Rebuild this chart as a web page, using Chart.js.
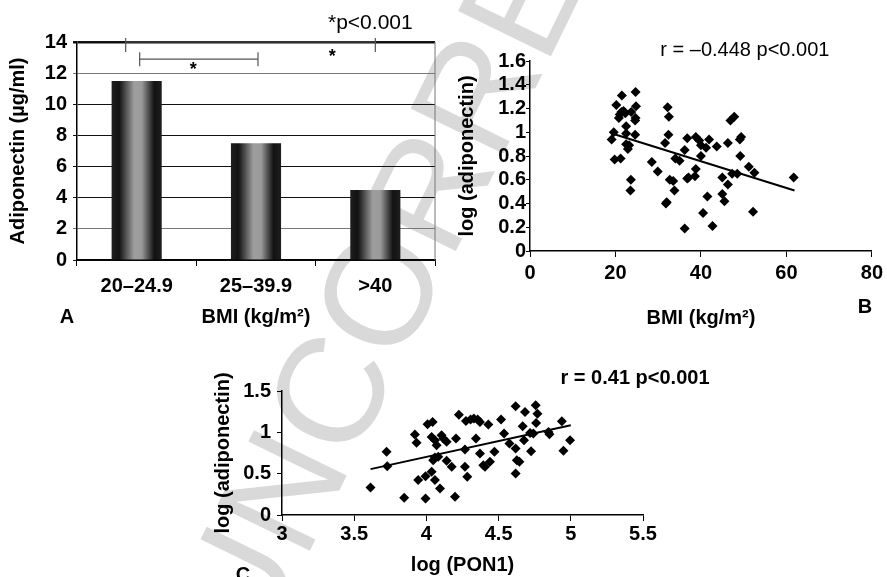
<!DOCTYPE html>
<html>
<head>
<meta charset="utf-8">
<script src="https://cdn.jsdelivr.net/npm/chart.js@4.4.0/dist/chart.umd.min.js"></script>
<style>
  html, body { margin: 0; padding: 0; background: #fff; overflow: hidden; }
  #page { position: relative; width: 887px; height: 577px; overflow: hidden; }
  canvas { position: absolute; }
</style>
</head>
<body>
<div id="page">
  <canvas id="wm" width="887" height="577" style="left:0;top:0"></canvas>
  <canvas id="chartA" width="445" height="340" style="left:0;top:0"></canvas>
  <canvas id="chartB" width="447" height="310" style="left:440px;top:30px"></canvas>
  <canvas id="chartC" width="560" height="250" style="left:180px;top:340px"></canvas>
</div>
<script>
// Panel A: mean adiponectin by BMI group
const bmiGroups = ['20–24.9', '25–39.9', '>40'];
const adiponectinMeans = [11.5, 7.5, 4.5];

// Panel B: BMI vs log(adiponectin)
const bmiB = [19.1, 19.6, 20.2, 19.8, 21.2, 20.8, 21.5, 21.4, 21.9, 22.3,
  22.5, 22.5, 22.9, 23.2, 23.7, 23.6, 23.5, 24.6, 24.7, 24.8,
  24.6, 24.7, 22.5, 28.5, 29.9, 32.2, 32.5, 32.4, 31.6, 32.0,
  32.7, 33.5, 33.8, 34.0, 35.0, 36.2, 36.2, 36.8, 36.8, 37.1,
  38.6, 38.8, 38.8, 39.6, 40.0, 40.0, 40.5, 41.2, 41.5, 41.9,
  42.7, 43.7, 45.0, 45.0, 45.5, 46.3, 46.3, 46.9, 47.8, 47.3,
  48.5, 49.1, 49.4, 49.2, 51.2, 52.5, 52.2, 61.7, 31.8, 21.0];
const logAdipoB = [0.94, 1.00, 1.23, 0.77, 0.78, 1.12, 1.31, 1.17, 1.18, 1.16,
  1.05, 0.90, 0.86, 0.89, 1.17, 0.60, 0.51, 0.98, 1.34, 1.22,
  1.10, 1.12, 0.99, 0.75, 0.67, 1.21, 1.13, 0.98, 0.91, 0.41,
  0.60, 0.59, 0.51, 0.78, 0.76, 0.85, 0.19, 0.95, 0.61, 0.62,
  0.63, 0.69, 0.96, 0.93, 0.89, 0.80, 0.32, 0.87, 0.46, 0.94,
  0.21, 0.88, 0.62, 0.48, 0.42, 0.56, 0.91, 1.10, 1.13, 0.65,
  0.65, 0.94, 0.96, 0.80, 0.71, 0.66, 0.33, 0.62, 0.40, 1.15];
const trendBx = [19.2, 61.9];
const trendBy = [0.99, 0.51];

// Panel C: log(PON1) vs log(adiponectin)
const pon1C = [3.613, 3.724, 3.729, 3.846, 3.920, 3.932, 3.943, 3.994, 3.994, 4.008,
  4.043, 4.036, 4.059, 4.036, 4.059, 4.071, 4.059, 4.047, 4.094, 4.082,
  4.105, 4.117, 4.140, 4.140, 4.175, 4.198, 4.205, 4.225, 4.267, 4.267,
  4.283, 4.274, 4.306, 4.329, 4.355, 4.371, 4.343, 4.371, 4.394, 4.406,
  4.429, 4.440, 4.471, 4.517, 4.538, 4.575, 4.618, 4.618, 4.626, 4.644,
  4.618, 4.667, 4.676, 4.683, 4.725, 4.718, 4.757, 4.769, 4.760, 4.741,
  4.845, 4.852, 4.938, 4.949, 4.995];
const logAdipoC = [0.334, 0.764, 0.591, 0.209, 0.973, 0.873, 0.422, 0.201, 0.470, 1.098,
  1.126, 0.523, 0.422, 0.945, 0.905, 0.844, 0.696, 0.663, 0.322, 0.704,
  0.965, 0.925, 0.885, 0.655, 0.583, 0.221, 0.925, 1.214, 0.792, 0.583,
  0.462, 1.138, 1.154, 1.166, 1.154, 1.126, 0.925, 0.744, 0.603, 0.583,
  1.094, 0.643, 0.764, 1.154, 0.985, 0.864, 1.315, 0.804, 0.663, 0.643,
  0.503, 1.074, 0.905, 1.246, 0.772, 0.993, 1.327, 1.226, 1.114, 0.985,
  1.005, 0.977, 1.134, 0.776, 0.905];
const trendCx = [3.613, 5.0];
const trendCy = [0.555, 1.086];

Chart.defaults.font.family = "'Liberation Sans', Arial, sans-serif";
Chart.defaults.color = '#000';

const tickFont = { size: 20, weight: 'bold' };
const titleFont = { size: 20, weight: 'bold' };
const plainNumber = v => String(parseFloat(Number(v).toFixed(2)));

function text(ctx, str, x, y, font, align) {
  ctx.font = font;
  ctx.fillStyle = '#000';
  ctx.textAlign = align || 'center';
  ctx.textBaseline = 'middle';
  ctx.fillText(str, x, y);
}

// watermark behind the panels
const wm = document.getElementById('wm').getContext('2d');
wm.save();
wm.translate(257, 659);
wm.rotate(-64 * Math.PI / 180);
wm.font = "150px 'Liberation Sans'";
wm.fillStyle = '#d9d9d9';
wm.fillText('UNCORRECTED', 0, 0);
wm.restore();

// cylinder-like shading across each bar
function barFill(c) {
  const chart = c.chart;
  const xs = chart.scales.x;
  if (!xs || !chart.chartArea || c.dataIndex === undefined) return '#888';
  const cx = xs.getPixelForValue(c.dataIndex);
  const half = xs.width / bmiGroups.length * 0.42 / 2;
  const g = chart.ctx.createLinearGradient(cx - half, 0, cx + half, 0);
  g.addColorStop(0, '#1e1e1e');
  g.addColorStop(0.15, '#121212');
  g.addColorStop(0.45, '#9e9e9e');
  g.addColorStop(0.6, '#9a9a9a');
  g.addColorStop(0.85, '#121212');
  g.addColorStop(1, '#1e1e1e');
  return g;
}

function bracket(ctx, x1, x2, y, up, down) {
  ctx.beginPath();
  ctx.moveTo(x1, y); ctx.lineTo(x2, y);
  ctx.moveTo(x1, y - up); ctx.lineTo(x1, y + down);
  ctx.moveTo(x2, y - up); ctx.lineTo(x2, y + down);
  ctx.stroke();
}

const notesA = {
  id: 'notesA',
  afterDraw(chart) {
    const { ctx, chartArea: area, scales: { x, y } } = chart;
    const c0 = x.getPixelForValue(0), c1 = x.getPixelForValue(1), c2 = x.getPixelForValue(2);
    const yTop = y.getPixelForValue(14);
    const yIn = y.getPixelForValue(12.9);
    ctx.save();
    // right frame line
    ctx.strokeStyle = '#777';
    ctx.lineWidth = 1;
    ctx.beginPath();
    ctx.moveTo(area.right, area.top); ctx.lineTo(area.right, area.bottom);
    ctx.stroke();
    // significance brackets
    ctx.strokeStyle = '#555';
    ctx.lineWidth = 1.2;
    bracket(ctx, c0 - 11, c2, yTop, 4, 10);
    bracket(ctx, c0 + 3, c1 + 2, yIn, 7, 7);
    text(ctx, '*', (c0 + c1) / 2 - 3, yIn + 11, 'bold 18px "Liberation Sans"');
    text(ctx, '*', c2 - 43, yTop + 15, 'bold 18px "Liberation Sans"');
    text(ctx, '*p<0.001', c2 - 5, yTop - 19, '21px "Liberation Sans"');
    text(ctx, 'A', area.left - 10, 317, 'bold 20px "Liberation Sans"');
    ctx.restore();
  }
};

new Chart(document.getElementById('chartA'), {
  type: 'bar',
  data: {
    labels: bmiGroups,
    datasets: [{
      data: adiponectinMeans,
      backgroundColor: barFill,
      barPercentage: 0.42,
      categoryPercentage: 1
    }]
  },
  options: {
    responsive: false,
    animation: false,
    layout: { padding: { top: 42, right: 10, left: 2, bottom: 7 } },
    plugins: { legend: { display: false }, tooltip: { enabled: false } },
    scales: {
      x: {
        grid: { offset: true, drawOnChartArea: false, tickLength: 6, color: '#000' },
        border: { color: '#000', width: 1.5 },
        ticks: { font: tickFont, padding: 8 },
        title: { display: true, text: 'BMI (kg/m²)', font: titleFont },
        afterFit: s => { s.height = 73; }
      },
      y: {
        min: 0, max: 14,
        ticks: { stepSize: 2, font: tickFont, padding: 6 },
        grid: {
          color: c => (c.tick && (c.tick.value === 2 || c.tick.value === 12) ? '#777' : '#111'),
          tickLength: 4,
          lineWidth: c => (c.tick && c.tick.value === 14 ? 2.5 : 1)
        },
        border: { color: '#000', width: 1.5 },
        title: { display: true, text: 'Adiponectin (µg/ml)', font: titleFont },
        afterFit: s => { s.width = 75; }
      }
    }
  },
  plugins: [notesA]
});

function scatterChart(id, cfg) {
  const points = cfg.xs.map((v, i) => ({ x: v, y: cfg.ys[i] }));
  const trend = cfg.tx.map((v, i) => ({ x: v, y: cfg.ty[i] }));
  return new Chart(document.getElementById(id), {
    type: 'scatter',
    data: {
      datasets: [
        { data: points, pointStyle: 'rectRot', pointRadius: 5, backgroundColor: '#000', borderColor: '#000', borderWidth: 0 },
        { type: 'line', data: trend, borderColor: '#000', borderWidth: 2, pointRadius: 0, showLine: true, fill: false }
      ]
    },
    options: {
      responsive: false,
      animation: false,
      layout: { padding: cfg.padding },
      plugins: { legend: { display: false }, tooltip: { enabled: false } },
      scales: {
        x: {
          type: 'linear', min: cfg.xMin, max: cfg.xMax,
          ticks: { stepSize: cfg.xStep, font: tickFont, padding: cfg.xPad, autoSkip: false, maxRotation: 0, callback: plainNumber },
          grid: { drawOnChartArea: false, tickLength: 6, color: '#000' },
          border: { color: '#000', width: 1.5 },
          title: { display: true, text: cfg.xTitle, font: titleFont },
          afterFit: s => { s.height = cfg.xHeight; }
        },
        y: {
          min: 0, max: cfg.yMax,
          ticks: { stepSize: cfg.yStep, font: tickFont, padding: cfg.yPad, autoSkip: false, callback: plainNumber },
          grid: { drawOnChartArea: false, tickLength: cfg.yTick, color: '#000' },
          border: { color: '#000', width: 1.5 },
          title: { display: true, text: 'log (adiponectin)', font: titleFont },
          afterFit: s => { s.width = cfg.yWidth; }
        }
      }
    },
    plugins: [{
      id: 'notes' + id,
      afterDraw(chart) {
        const { ctx, chartArea: area } = chart;
        ctx.save();
        cfg.notes(ctx, area);
        ctx.restore();
      }
    }]
  });
}

scatterChart('chartB', {
  xs: bmiB, ys: logAdipoB, tx: trendBx, ty: trendBy,
  xMin: 0, xMax: 80, xStep: 20, xPad: 4, xHeight: 83, xTitle: 'BMI (kg/m²)',
  yMax: 1.6, yStep: 0.2, yPad: 0, yTick: 4, yWidth: 79,
  padding: { top: 31, left: 11, right: 0, bottom: 6 },
  notes(ctx, area) {
    text(ctx, 'r = –0.448 p<0.001', area.right - 127, area.top - 11, '20px "Liberation Sans"');
    text(ctx, 'B', area.right - 7, area.bottom + 56, 'bold 20px "Liberation Sans"');
  }
});

scatterChart('chartC', {
  xs: pon1C, ys: logAdipoC, tx: trendCx, ty: trendCy,
  xMin: 3, xMax: 5.5, xStep: 0.5, xPad: 1, xHeight: 66, xTitle: 'log (PON1)',
  yMax: 1.5, yStep: 0.5, yPad: 6, yTick: 5, yWidth: 75,
  padding: { top: 51, left: 27, right: 97, bottom: 9 },
  notes(ctx, area) {
    text(ctx, 'r = 0.41 p<0.001', area.right - 8, area.top - 13, 'bold 20px "Liberation Sans"');
    text(ctx, 'C', area.left - 39, area.bottom + 60, 'bold 20px "Liberation Sans"');
  }
});
</script>
</body>
</html>
